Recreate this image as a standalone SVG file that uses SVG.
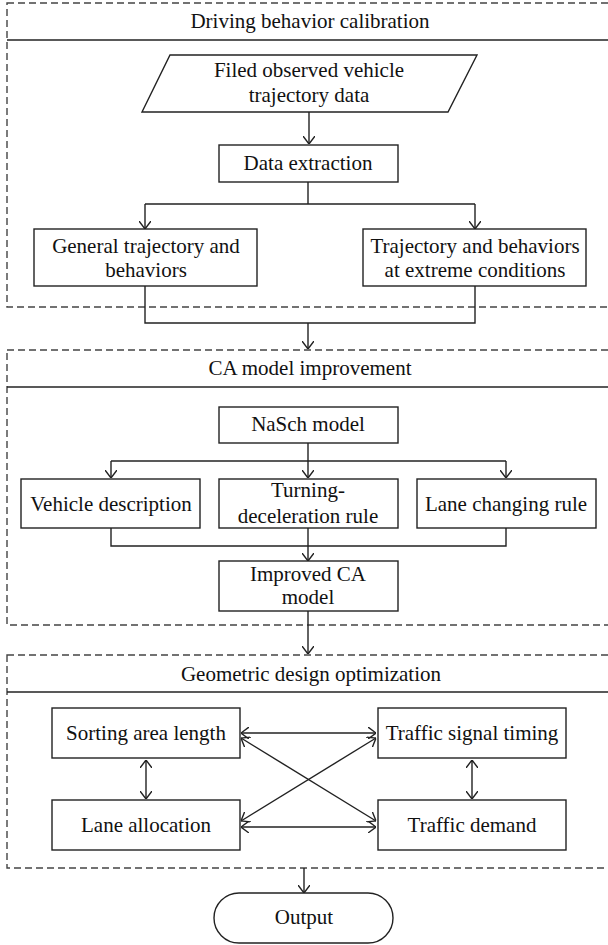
<svg xmlns="http://www.w3.org/2000/svg" width="608" height="945" viewBox="0 0 608 945">
<style>
.bg{fill:#fff}
.sec{fill:none;stroke:#444;stroke-width:1.4;stroke-dasharray:7,4}
.sep{stroke:#222;stroke-width:1.4}
.box{fill:#fff;stroke:#222;stroke-width:1.4}
.ln{fill:none;stroke:#222;stroke-width:1.4}
.ar{fill:none;stroke:#222;stroke-width:1.4;marker-end:url(#ah)}
.bi{fill:none;stroke:#222;stroke-width:1.4;marker-end:url(#ah);marker-start:url(#ah)}
text{font-family:"Liberation Serif","Times New Roman",serif;font-size:21px;fill:#111;text-anchor:middle}
</style>
<defs>
<marker id="ah" viewBox="0 0 8 12" refX="8" refY="6" markerWidth="8" markerHeight="12" markerUnits="userSpaceOnUse" orient="auto-start-reverse">
<path d="M0,0 L8,6 L0,12" fill="none" stroke="#222" stroke-width="1.4"/>
</marker>
</defs>
<rect class="bg" x="0" y="0" width="608" height="945"/>

<g id="section-driving">
<rect class="sec" x="7" y="3" width="610" height="304"/>
<line class="sep" x1="7" y1="40" x2="608" y2="40"/>
<text x="310" y="28">Driving behavior calibration</text>
</g>
<g id="section-ca">
<rect class="sec" x="7" y="350" width="610" height="275"/>
<line class="sep" x1="7" y1="387" x2="608" y2="387"/>
<text x="310" y="375">CA model improvement</text>
</g>
<g id="section-geo">
<rect class="sec" x="7" y="655" width="610" height="213"/>
<line class="sep" x1="7" y1="692" x2="608" y2="692"/>
<text x="311" y="681">Geometric design optimization</text>
</g>

<g id="connectors">
<path class="ar" d="M309,112 V144"/>
<path class="ln" d="M308,182 V204 M145,204 H475"/>
<path class="ar" d="M145,204 V229"/>
<path class="ar" d="M475,204 V229"/>
<path class="ln" d="M145,286 V323 H475 V286"/>
<path class="ar" d="M308,323 V349"/>
<path class="ar" d="M308,443 V478"/>
<path class="ln" d="M111,461 H506"/>
<path class="ar" d="M111,461 V478"/>
<path class="ar" d="M506,461 V478"/>
<path class="ln" d="M111,528 V546 H506 V528"/>
<path class="ar" d="M308,528 V561"/>
<path class="ar" d="M308,611 V654"/>
<path class="bi" d="M241,733 H376"/>
<path class="bi" d="M241,827 H376"/>
<path class="bi" d="M241,738 L376,821"/>
<path class="bi" d="M241,821 L376,738"/>
<path class="bi" d="M146,760 V799"/>
<path class="bi" d="M472,760 V799"/>
<path class="ar" d="M304,868 V893"/>
</g>

<g id="n-filed">
<polygon class="box" points="170,55 477,55 448,112 142,112"/>
<text x="309" y="77">Filed observed vehicle</text>
<text x="309" y="102">trajectory data</text>
</g>
<g id="n-extract">
<rect class="box" x="219" y="145" width="179" height="37"/>
<text x="308" y="170">Data extraction</text>
</g>
<g id="n-general">
<rect class="box" x="34" y="229" width="223" height="57"/>
<text x="146" y="253">General trajectory and</text>
<text x="146" y="277">behaviors</text>
</g>
<g id="n-extreme">
<rect class="box" x="363" y="229" width="223" height="57"/>
<text x="475" y="253">Trajectory and behaviors</text>
<text x="475" y="277">at extreme conditions</text>
</g>
<g id="n-nasch">
<rect class="box" x="219" y="407" width="179" height="36"/>
<text x="308" y="431">NaSch model</text>
</g>
<g id="n-vehicle">
<rect class="box" x="21" y="479" width="179" height="49"/>
<text x="111" y="511">Vehicle description</text>
</g>
<g id="n-turning">
<rect class="box" x="219" y="479" width="179" height="49"/>
<text x="308" y="497">Turning-</text>
<text x="308" y="523">deceleration rule</text>
</g>
<g id="n-lane">
<rect class="box" x="417" y="479" width="179" height="49"/>
<text x="506" y="511">Lane changing rule</text>
</g>
<g id="n-improved">
<rect class="box" x="219" y="561" width="179" height="50"/>
<text x="308" y="581">Improved CA</text>
<text x="308" y="604">model</text>
</g>
<g id="n-sorting">
<rect class="box" x="52" y="708" width="188" height="50"/>
<text x="146" y="740">Sorting area length</text>
</g>
<g id="n-signal">
<rect class="box" x="378" y="708" width="188" height="50"/>
<text x="472" y="740">Traffic signal timing</text>
</g>
<g id="n-laneAlloc">
<rect class="box" x="52" y="800" width="188" height="50"/>
<text x="146" y="832">Lane allocation</text>
</g>
<g id="n-demand">
<rect class="box" x="378" y="800" width="188" height="50"/>
<text x="472" y="832">Traffic demand</text>
</g>
<g id="n-output">
<rect class="box" x="214" y="893" width="179" height="50" rx="25" ry="25"/>
<text x="304" y="924">Output</text>
</g>
</svg>
